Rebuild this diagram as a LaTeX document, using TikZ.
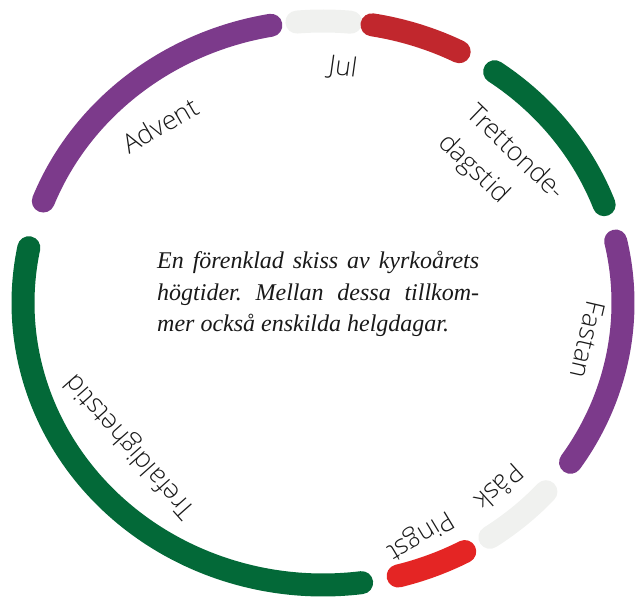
\documentclass[tikz,border=0pt]{standalone}
\usepackage{fontspec}
\IfFontExistsTF{Open Sans Light}{\setsansfont{Open Sans Light}}{\setsansfont{Open Sans}}
\newfontfamily\skissfont{Liberation Serif}
\usetikzlibrary{calc}

\definecolor{lila}{RGB}{124,58,139}
\definecolor{gron}{RGB}{3,105,56}
\definecolor{julrod}{RGB}{193,39,45}
\definecolor{pingstrod}{RGB}{228,37,36}
\definecolor{vitt}{RGB}{240,241,239}

\begin{document}
\frenchspacing
\begin{tikzpicture}[
		x=1pt, y=1pt,
		season/.style={line width=23pt, line cap=round},
		feast/.style={font=\sffamily\fontsize{26.5}{40}\selectfont, text=black!90, inner sep=0pt, align=left},
		caption/.style={font=\skissfont\itshape\fontsize{24}{31.5}\selectfont, text=black!90, inner sep=0pt, align=left, anchor=north west}
		]
		\useasboundingbox (0,0) rectangle (636,599);
		\coordinate (centre) at (323,296);
		
		% Kyrkoarets tider, medurs fran toppen
		\draw[season, vitt] (centre) ++(95:300pt and 282pt) arc[start angle=95, end angle=84.7, x radius=300pt, y radius=282pt];
		\draw[season, julrod] (centre) ++(80.6:300pt and 282pt) arc[start angle=80.6, end angle=63, x radius=300pt, y radius=282pt];
		\draw[season, gron] (centre) ++(55.1:300pt and 282pt) arc[start angle=55.1, end angle=20.4, x radius=300pt, y radius=282pt];
		\draw[season, lila] (centre) ++(12.7:300pt and 282pt) arc[start angle=12.7, end angle=-34.4, x radius=300pt, y radius=282pt];
		\draw[season, vitt] (centre) ++(-42:300pt and 282pt) arc[start angle=-42, end angle=-56.2, x radius=300pt, y radius=282pt];
		\draw[season, pingstrod] (centre) ++(-61.8:300pt and 282pt) arc[start angle=-61.8, end angle=-75.5, x radius=300pt, y radius=282pt];
		\draw[season, gron] (centre) ++(-82.6:300pt and 282pt) arc[start angle=-82.6, end angle=-191.3, x radius=300pt, y radius=282pt];
		\draw[season, lila] (centre) ++(158.8:300pt and 282pt) arc[start angle=158.8, end angle=100, x radius=300pt, y radius=282pt];
		
		% Namn langs ringen
		\node[feast, rotate=-8] at (343,531) (jul) {Jul};
		\node[feast, rotate=30] at (160,474) (advent) {Advent};
		\node[feast, rotate=-44] at (501,431) (trettondedag) {Trettonde-\\dagstid};
		\node[feast, rotate=-103] at (588,259) (fastan) {Fastan};
		\node[feast, rotate=-138] at (500,111) (pask) {Påsk};
		\node[feast, rotate=-149] at (420,64) (pingst) {Pingst};
		\node[feast, rotate=131.6] at (131,153) (trefaldighet) {Trefaldighetstid};
		
		% Text i mitten
		\node[caption] at (157,348) (skiss) {\makebox[322pt][s]{En förenklad skiss av kyrkoårets}\\\makebox[322pt][s]{högtider. Mellan dessa tillkom-}\\mer också enskilda helgdagar.};
		
	\end{tikzpicture}
\end{document}
